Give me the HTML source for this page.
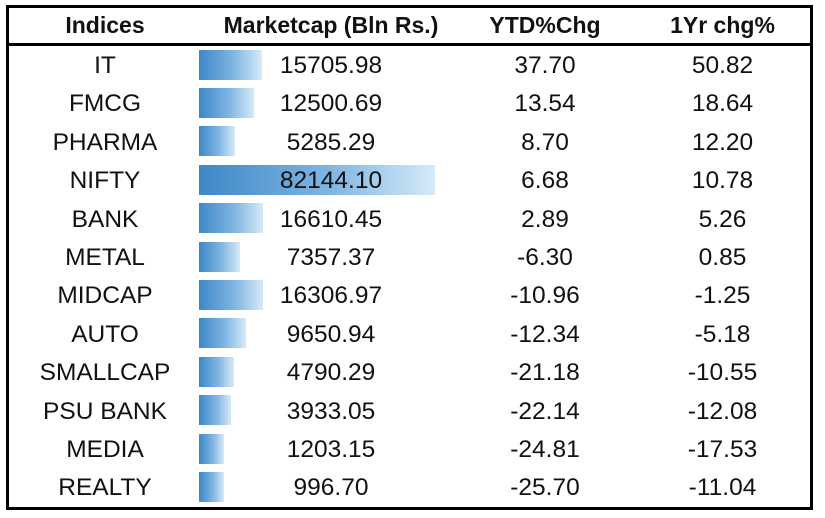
<!DOCTYPE html>
<html><head><meta charset="utf-8"><style>
body{margin:0;width:825px;height:518px;background:#fff;position:relative;overflow:hidden;font-family:"Liberation Sans",sans-serif;color:#111}
.box{position:absolute;left:6px;top:5px;width:801px;height:499px;border:3px solid #000}
.hl{position:absolute;left:6px;width:807px;top:43px;height:3px;background:#000}
.t{position:absolute;text-align:center;font-size:24.5px;line-height:38px;white-space:nowrap}
.h{font-weight:bold;font-size:23px;line-height:38px;top:6px}
.bar{position:absolute;left:199px;height:30px;background:linear-gradient(to right,#3d88c8,#7fb5e2 55%,#d6eaf8)}
</style></head><body>
<div class="box"></div><div class="hl"></div>
<div class="t h" style="left:10px;width:190px">Indices</div>
<div class="t h" style="left:206px;width:250px">Marketcap (Bln Rs.)</div>
<div class="t h" style="left:460px;width:170px">YTD%Chg</div>
<div class="t h" style="left:640px;width:165px">1Yr chg%</div>
<div id="rows"></div>
<script>
var d=[["IT",0,"15705.98","37.70","50.82",63],["FMCG",0,"12500.69","13.54","18.64",55],["PHARMA",0,"5285.29","8.70","12.20",36],["NIFTY",0,"82144.10","6.68","10.78",236],["BANK",0,"16610.45","2.89","5.26",64],["METAL",0,"7357.37","-6.30","0.85",41],["MIDCAP",0,"16306.97","-10.96","-1.25",64],["AUTO",0,"9650.94","-12.34","-5.18",47],["SMALLCAP",0,"4790.29","-21.18","-10.55",35],["PSU BANK",0,"3933.05","-22.14","-12.08",32],["MEDIA",0,"1203.15","-24.81","-17.53",25],["REALTY",0,"996.70","-25.70","-11.04",25]];
var h="";
d.forEach(function(r,i){var top=46+i*38.4;
h+='<div class="bar" style="top:'+(top+3.5)+'px;width:'+r[5]+'px"></div>';
h+='<div class="t" style="top:'+(top+1)+'px;left:10px;width:190px">'+r[0]+'</div>';
h+='<div class="t" style="top:'+(top+1)+'px;left:206px;width:250px">'+r[2]+'</div>';
h+='<div class="t" style="top:'+(top+1)+'px;left:460px;width:170px">'+r[3]+'</div>';
h+='<div class="t" style="top:'+(top+1)+'px;left:640px;width:165px">'+r[4]+'</div>';});
document.getElementById("rows").innerHTML=h;
</script>
</body></html>
